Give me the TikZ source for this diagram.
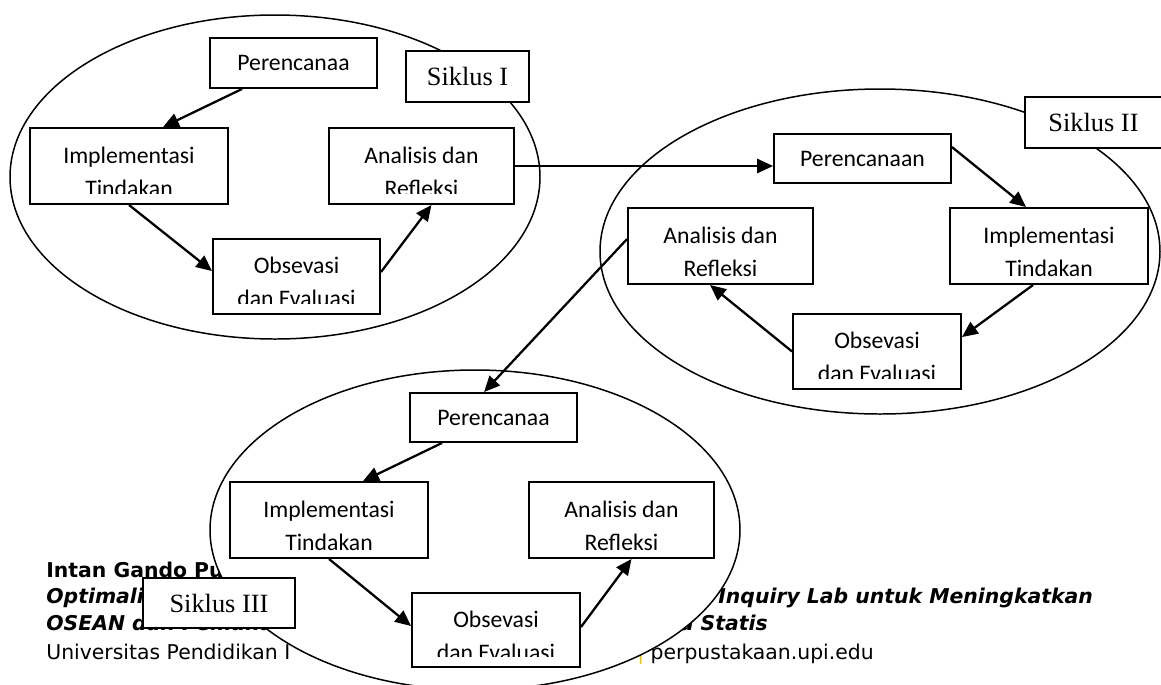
\documentclass[tikz,border=0pt]{standalone}
\usepackage{fontspec}
\usetikzlibrary{arrows.meta,calc}
\newfontfamily\calibri{Carlito}
\newfontfamily\timesf{Liberation Serif}
\newfontfamily\footfont{DejaVu Sans}
\definecolor{sepyellow}{HTML}{F2C300}

\tikzset{
  box/.style={draw=black,line width=1.1pt,fill=white,inner sep=0pt},
  boxtext/.style={font=\calibri\fontsize{13.5}{18.8}\selectfont,align=center,inner sep=0pt},
  twoline/.style={box,path picture={
      \node[boxtext,anchor=north] at ([yshift=-2.7pt]path picture bounding box.north) {#1};}},
  cutline/.style={box,path picture={
      \clip (path picture bounding box.north west) rectangle ([yshift=6.2pt]path picture bounding box.south east);
      \node[boxtext,anchor=north] at ([yshift=-2.7pt]path picture bounding box.north) {#1};}},
  siklus/.style={box,font=\timesf\fontsize{15}{18}\selectfont},
  ring/.style={draw=black,line width=0.85pt},
  be/.style={draw=black,line width=1.3pt,arrows={-Triangle[length=9pt,width=8pt]}},
  foot/.style={anchor=base west,inner sep=0pt,font=\footfont\fontsize{11.6}{14}\selectfont}
}

\begin{document}
\begin{tikzpicture}[x=0.02cm,y=-0.02cm]
\useasboundingbox (0,0) rectangle (1161,684);

% page footer behind the third cycle
\node[foot] (author) at (46,577) {\bfseries Intan Gando Pu};
\node[foot] (titleA) at (46,603) {\bfseries\itshape Optimali};
\node[foot] (titleB) at (718,603) {\bfseries\itshape Inquiry Lab untuk Meningkatkan};
\node[foot] (titleC) at (46,630) {\bfseries\itshape OSEAN dan Pemaha};
\node[foot,anchor=base east] (titleD) at (768,630) {\bfseries\itshape a Statis};
\node[foot] (univ) at (46,659) {Universitas Pendidikan I};
\node[foot] (web) at (637,659) {\textcolor{sepyellow}{|} perpustakaan.upi.edu};

% the three cycles
\draw[ring] (275,177) ellipse [x radius=265,y radius=162];
\draw[ring] (880,251.5) ellipse [x radius=280,y radius=162.5];
\draw[ring,fill=white] (475,530) ellipse [x radius=265,y radius=160];

% Siklus I
\node[box,boxtext,minimum width=3.34cm,minimum height=1cm] (P1) at (293.5,63) {Perencanaa};
\node[siklus,minimum width=2.46cm,minimum height=1.02cm] (S1) at (467.5,76.5) {Siklus I};
\node[cutline={Implementasi\\Tindakan},minimum width=3.96cm,minimum height=1.52cm] (I1) at (129,166) {};
\node[cutline={Analisis dan\\Refleksi},minimum width=3.7cm,minimum height=1.52cm] (A1) at (421.5,166) {};
\node[cutline={Obsevasi\\dan Evaluasi},minimum width=3.34cm,minimum height=1.5cm] (O1) at (296.5,276.5) {};

% Siklus II
\node[box,boxtext,minimum width=3.54cm,minimum height=0.98cm] (P2) at (862.5,158.5) {Perencanaan};
\node[siklus,minimum width=2.74cm,minimum height=1.02cm] (S2) at (1093.5,122.5) {Siklus II};
\node[twoline={Analisis dan\\Refleksi},minimum width=3.7cm,minimum height=1.52cm] (A2) at (720.5,246) {};
\node[twoline={Implementasi\\Tindakan},minimum width=3.96cm,minimum height=1.52cm] (I2) at (1049,246) {};
\node[cutline={Obsevasi\\dan Evaluasi},minimum width=3.36cm,minimum height=1.5cm] (O2) at (877,351.5) {};

% Siklus III
\node[box,boxtext,minimum width=3.34cm,minimum height=0.98cm] (P3) at (493.5,417.5) {Perencanaa};
\node[twoline={Implementasi\\Tindakan},minimum width=3.96cm,minimum height=1.52cm] (I3) at (329,520) {};
\node[twoline={Analisis dan\\Refleksi},minimum width=3.7cm,minimum height=1.52cm] (A3) at (621.5,520) {};
\node[cutline={Obsevasi\\dan Evaluasi},minimum width=3.36cm,minimum height=1.48cm] (O3) at (496,630) {};
\node[siklus,minimum width=3.04cm,minimum height=1cm] (S3) at (219,603) {Siklus III};

\draw[be] ($(P1.south west)+(33,0)$) -- ($(I1.north west)+(134,0)$);
\draw[be] (I1.south) -- ($(O1.north west)+(0,33)$);
\draw[be] ($(O1.north east)+(0,34)$) -- ($(A1.south)+(10,0)$);
\draw[be] (A1.east) -- (A1.east -| P2.west);
\draw[be] ($(P2.north east)+(0,14)$) -- ($(I2.north west)+(77,0)$);
\draw[be] ($(I2.south west)+(84,0)$) -- ($(O2.north east)+(0,24)$);
\draw[be] (O2.west) -- ($(A2.south west)+(83,0)$);
\draw[be] ($(A2.north west)+(0,32)$) -- ($(P3.north west)+(75,0)$);
\draw[be] ($(P3.south west)+(33,0)$) -- ($(I3.north west)+(134,0)$);
\draw[be] (I3.south) -- ($(O3.north west)+(0,34)$);
\draw[be] ($(O3.north east)+(0,35)$) -- ($(A3.south)+(10,0)$);

\end{tikzpicture}
\end{document}
